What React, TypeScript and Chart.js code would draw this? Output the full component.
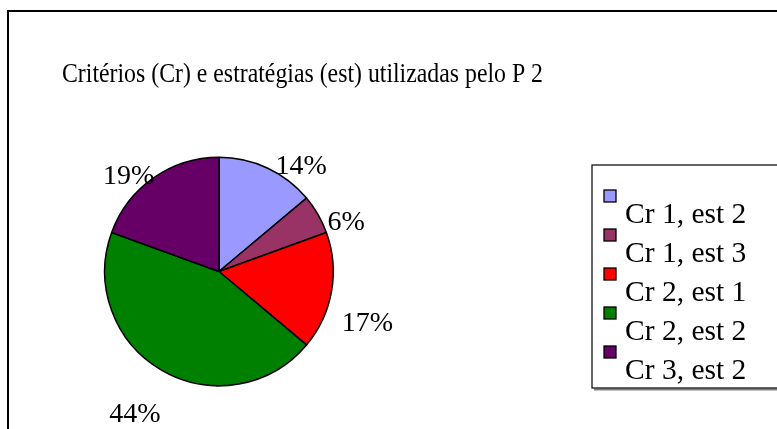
import React, { useEffect, useRef } from "react";
import { Chart, registerables } from "chart.js";

Chart.register(...registerables);

const categories = ["Cr 1, est 2", "Cr 1, est 3", "Cr 2, est 1", "Cr 2, est 2", "Cr 3, est 2"];
const counts = [5, 2, 6, 16, 7];
const sliceColors = ["#9999FF", "#993366", "#FF0000", "#008000", "#660066"];
const chartTitle = "Critérios (Cr) e estratégias (est) utilizadas pelo P 2";

// label placement (polar, relative to slice mid-angle): angle nudge in degrees, distance in radii
const labelAngleNudge = [12.5, 8, 8.5, 0.7, -8];
const labelDistance = [1.18, 1.2, 1.37, 1.44, 1.16];

const FONT = "'Liberation Serif', 'Times New Roman', serif";
const W = 777;
const H = 429;

const decorPlugin = {
  id: "decor",
  beforeDraw(chart: any) {
    const ctx = chart.ctx;
    ctx.save();
    ctx.fillStyle = "#ffffff";
    ctx.fillRect(0, 0, W, H);
    // outer frame
    ctx.strokeStyle = "#000";
    ctx.lineWidth = 2;
    ctx.beginPath();
    ctx.moveTo(8, H + 5);
    ctx.lineTo(8, 11);
    ctx.lineTo(W + 5, 11);
    ctx.stroke();
    // title (slightly condensed)
    ctx.fillStyle = "#000";
    ctx.font = `28px ${FONT}`;
    ctx.textAlign = "left";
    ctx.textBaseline = "alphabetic";
    const tw = ctx.measureText(chartTitle).width;
    const sx = 481 / tw;
    ctx.translate(62, 82);
    ctx.scale(sx, 1);
    ctx.fillText(chartTitle, 0, 0);
    ctx.restore();
  },
  afterDatasetsDraw(chart: any) {
    const ctx = chart.ctx;
    const meta = chart.getDatasetMeta(0);
    const total = counts.reduce((a, b) => a + b, 0);
    ctx.save();
    ctx.fillStyle = "#000";
    ctx.font = `28px ${FONT}`;
    ctx.textAlign = "center";
    ctx.textBaseline = "alphabetic";
    meta.data.forEach((arc: any, i: number) => {
      const { x, y, startAngle, endAngle, outerRadius } = arc.getProps(
        ["x", "y", "startAngle", "endAngle", "outerRadius"],
        true
      );
      const mid = (startAngle + endAngle) / 2 + (labelAngleNudge[i] * Math.PI) / 180;
      const r = outerRadius * labelDistance[i];
      const cx = x + Math.cos(mid) * r;
      const cy = y + Math.sin(mid) * r;
      const pct = Math.round((counts[i] / total) * 100) + "%";
      ctx.fillText(pct, cx, cy + 9.5);
    });
    ctx.restore();

    // legend
    ctx.save();
    const lx = 592;
    const ly = 165;
    const lb = 388;
    ctx.strokeStyle = "#808080";
    ctx.lineWidth = 2;
    ctx.beginPath();
    ctx.moveTo(lx + 2, lb + 1.5);
    ctx.lineTo(W + 5, lb + 1.5);
    ctx.stroke();
    ctx.strokeStyle = "#000";
    ctx.lineWidth = 1.2;
    ctx.strokeRect(lx, ly, W + 10 - lx, lb - ly);
    ctx.font = `29.5px ${FONT}`;
    ctx.textAlign = "left";
    ctx.textBaseline = "alphabetic";
    categories.forEach((c, i) => {
      const my = 190 + i * 39;
      ctx.fillStyle = sliceColors[i];
      ctx.fillRect(604, my, 12, 12);
      ctx.strokeStyle = "#000";
      ctx.lineWidth = 1.3;
      ctx.strokeRect(604, my, 12, 12);
      ctx.fillStyle = "#000";
      ctx.fillText(c, 625, 223 + i * 39);
    });
    ctx.restore();
  },
};

export default function App() {
  const ref = useRef<HTMLCanvasElement>(null);
  useEffect(() => {
    if (!ref.current) return;
    const chart = new Chart(ref.current, {
      type: "pie",
      data: {
        labels: categories,
        datasets: [
          {
            data: counts,
            backgroundColor: sliceColors,
            borderColor: "#000",
            borderWidth: 1.5,
          },
        ],
      },
      options: {
        responsive: false,
        animation: false,
        events: [],
        layout: {
          padding: { left: 104, right: W - 334, top: 156.5, bottom: H - 386.5 },
        },
        plugins: {
          legend: { display: false },
          title: { display: false },
          tooltip: { enabled: false },
        },
      },
      plugins: [decorPlugin],
    });
    return () => chart.destroy();
  }, []);
  return (
    <div style={{ position: "fixed", left: 0, top: 0, width: W, height: H, background: "#fff" }}>
      <canvas ref={ref} width={W} height={H} style={{ width: W, height: H, display: "block" }} />
    </div>
  );
}
